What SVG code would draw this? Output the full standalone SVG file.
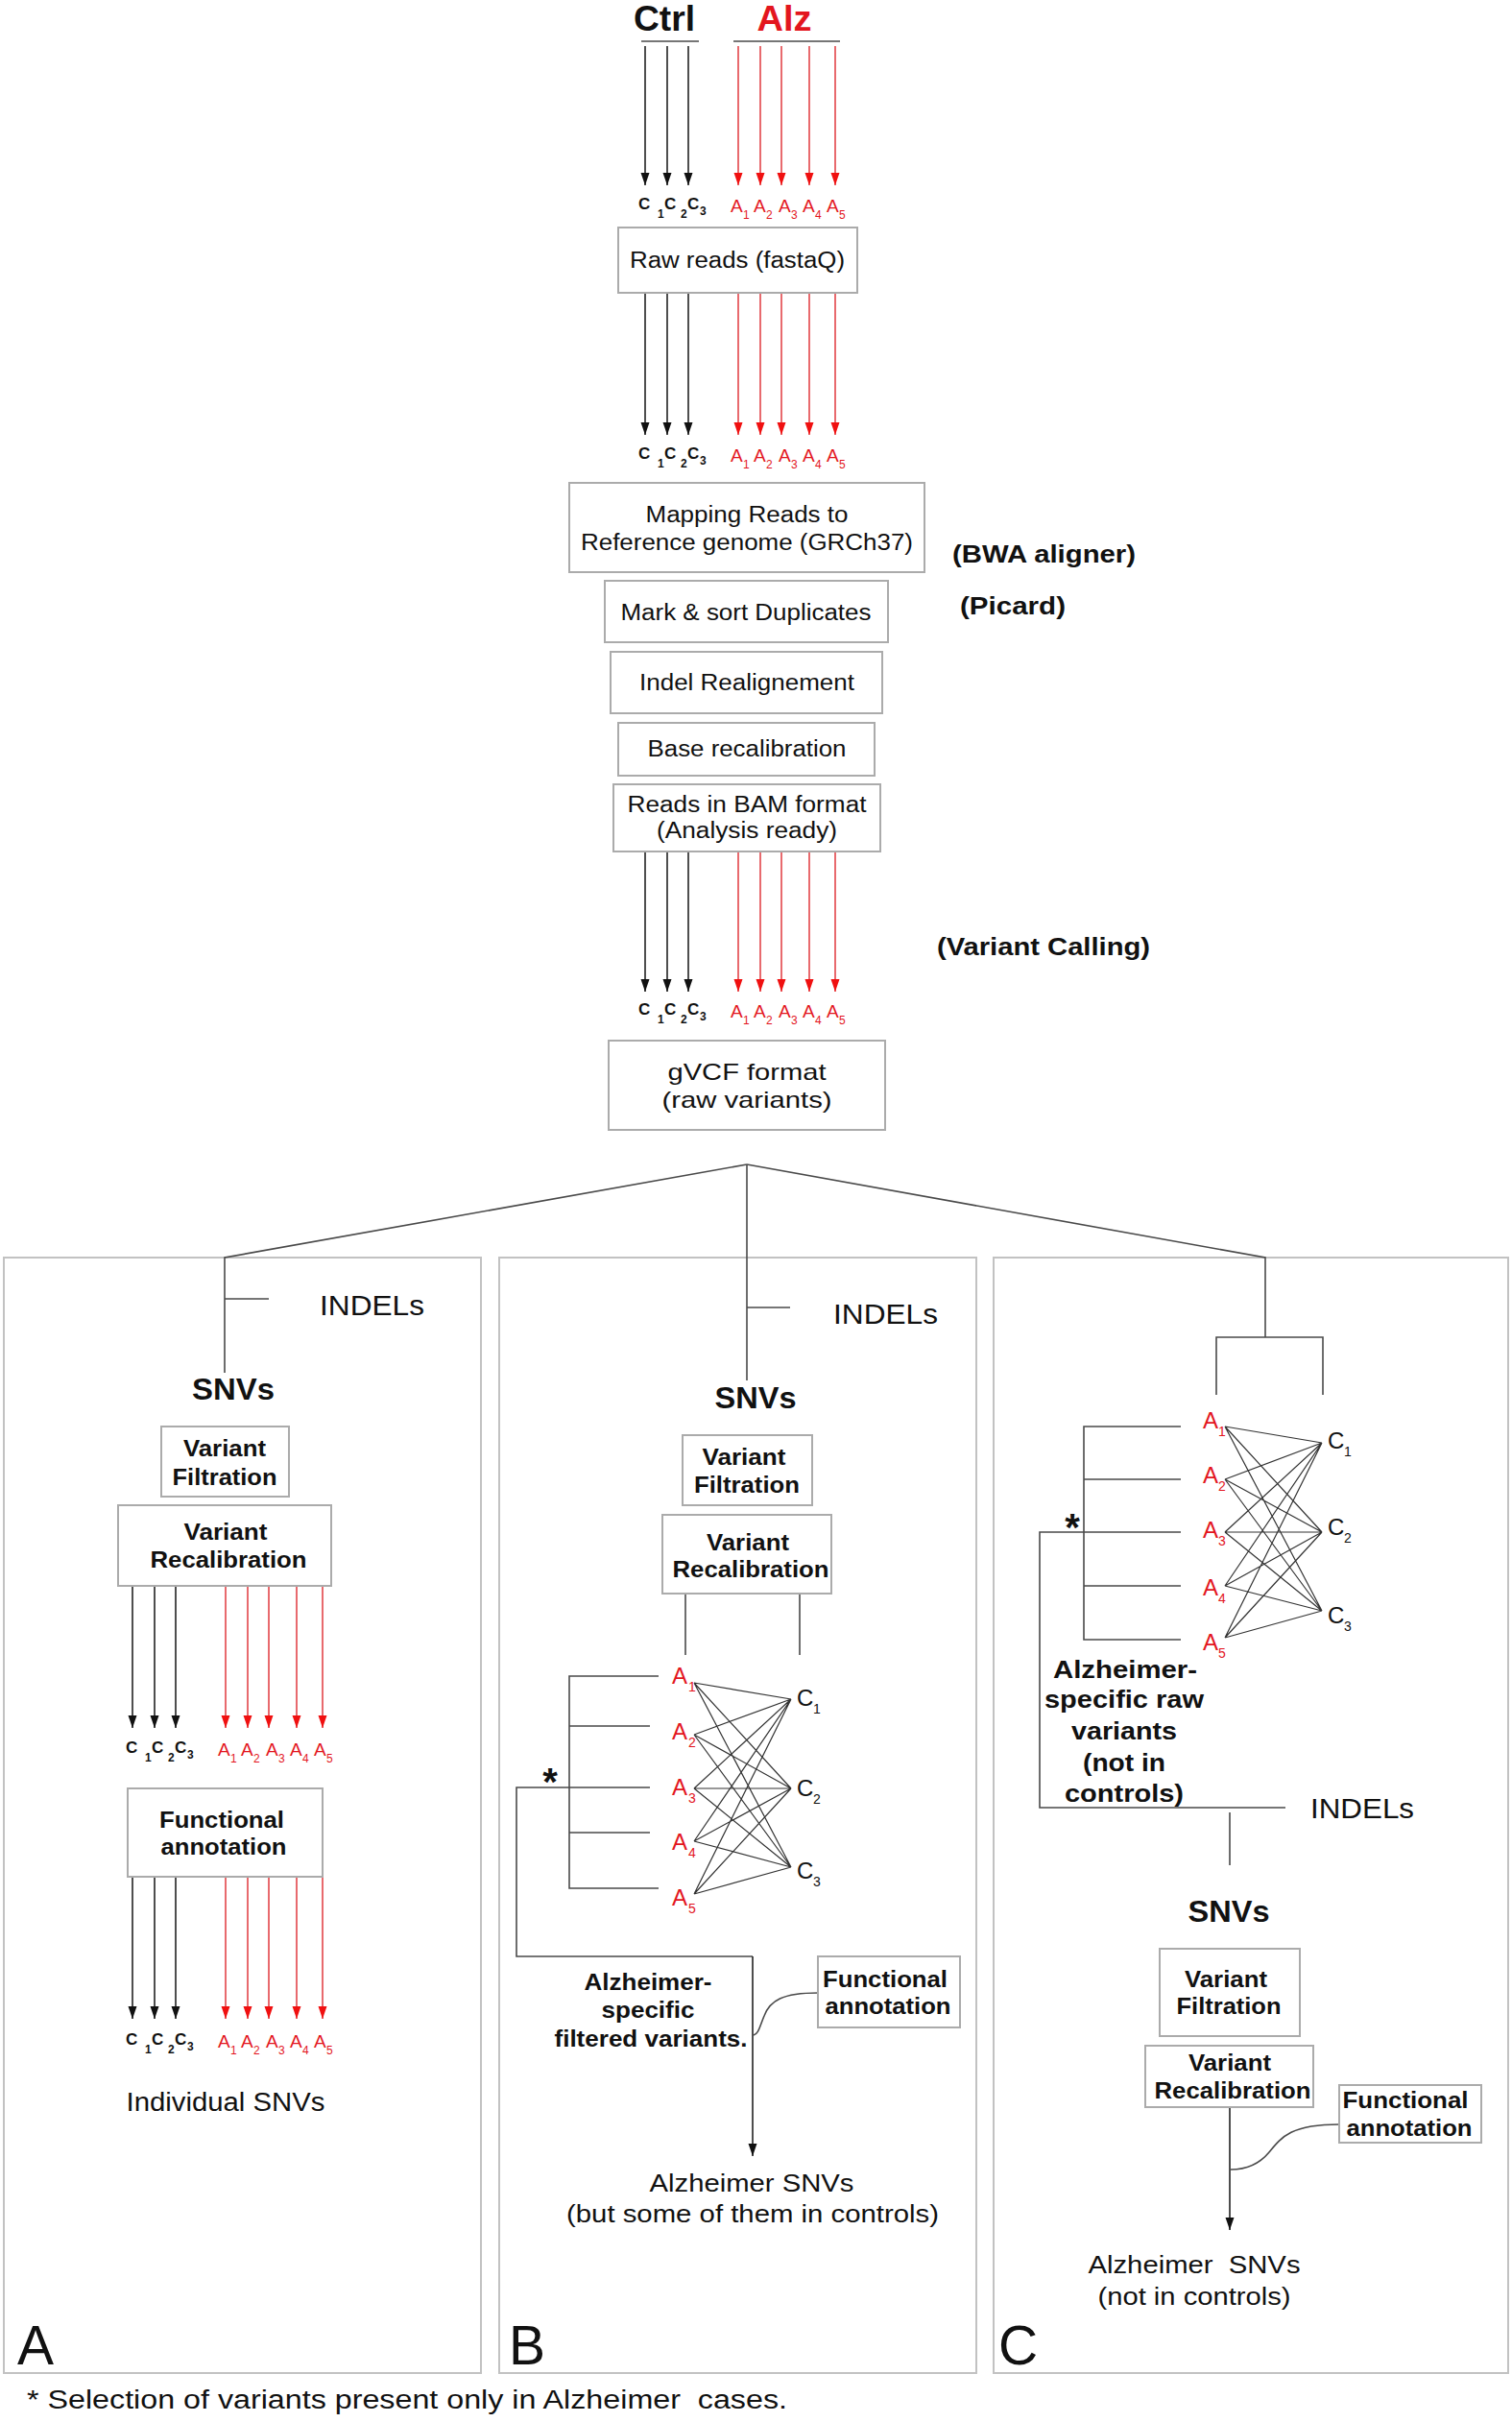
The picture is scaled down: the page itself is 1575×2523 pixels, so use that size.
<svg xmlns="http://www.w3.org/2000/svg" xmlns:xlink="http://www.w3.org/1999/xlink" width="1575" height="2523" viewBox="0 0 1575 2523">
<style>
text{font-family:"Liberation Sans",Arial,Helvetica,sans-serif;fill:#111;white-space:pre}
.b{font-weight:bold}
.m{text-anchor:middle}
.red{fill:#e3161e}
.box{fill:#fff;stroke:#ababab;stroke-width:2}
.pan{fill:none;stroke:#c2c2c2;stroke-width:2}
.ln{fill:none;stroke:#4a4a4a;stroke-width:1.6}
.x{fill:none;stroke:#333;stroke-width:1.2}
.ak{stroke:#222;stroke-width:1.6;marker-end:url(#hk)}
.ar{stroke:#e0393e;stroke-width:1.5;marker-end:url(#hr)}
.sc{font-weight:bold;font-size:17px}
.ss{font-weight:bold;font-size:12px}
.sa{font-size:19px;fill:#e3161e}
.sr{font-size:12px;fill:#e3161e}
.n22{font-size:23px}
.h26{font-size:26px;font-weight:bold}
.v24{font-size:24px;font-weight:bold}
.ind{font-size:29px}
.snv{font-size:32px;font-weight:bold}
.la{font-size:24px;fill:#e3161e}
.lc{font-size:24px}
.sub{font-size:14px}
.subr{font-size:14px;fill:#e3161e}
</style>
<defs>
<marker id="hk" markerUnits="userSpaceOnUse" markerWidth="14" markerHeight="10" refX="13" refY="4.5" orient="auto" overflow="visible"><path d="M0,0 L13,4.5 L0,9 z" fill="#111"/></marker>
<marker id="hr" markerUnits="userSpaceOnUse" markerWidth="14" markerHeight="10" refX="13" refY="4.5" orient="auto" overflow="visible"><path d="M0,0 L13,4.5 L0,9 z" fill="#f01010"/></marker>
<g id="lbl">
<text class="sc" x="665" y="218">C</text><text class="ss" x="685" y="227">1</text>
<text class="sc" x="692" y="218">C</text><text class="ss" x="709" y="227">2</text>
<text class="sc" x="716" y="218">C</text><text class="ss" x="729" y="224">3</text>
<text class="sa" x="761" y="221">A</text><text class="sr" x="774" y="228">1</text>
<text class="sa" x="785" y="221">A</text><text class="sr" x="798" y="228">2</text>
<text class="sa" x="811" y="221">A</text><text class="sr" x="824" y="228">3</text>
<text class="sa" x="836" y="221">A</text><text class="sr" x="849" y="228">4</text>
<text class="sa" x="861" y="221">A</text><text class="sr" x="874" y="228">5</text>
</g>
</defs>
<rect width="1575" height="2523" fill="#fff"/>

<g id="panels">
<rect class="pan" x="4" y="1310" width="497" height="1162"/>
<rect class="pan" x="520" y="1310" width="497" height="1162"/>
<rect class="pan" x="1035" y="1310" width="536" height="1162"/>
<text x="18" y="2463" font-size="57">A</text>
<text x="530" y="2463" font-size="57">B</text>
<text x="1040" y="2463" font-size="57">C</text>
</g>

<g id="connectors">
<path class="ln" d="M668,43 H728 M764,43 H875" stroke="#666"/>
<g>
<line class="ak" x1="672" y1="48" x2="672" y2="193"/><line class="ak" x1="695" y1="48" x2="695" y2="193"/><line class="ak" x1="717" y1="48" x2="717" y2="193"/>
<line class="ar" x1="769" y1="48" x2="769" y2="193"/><line class="ar" x1="792" y1="48" x2="792" y2="193"/><line class="ar" x1="814" y1="48" x2="814" y2="193"/><line class="ar" x1="843" y1="48" x2="843" y2="193"/><line class="ar" x1="870" y1="48" x2="870" y2="193"/>
</g>
<g>
<line class="ak" x1="672" y1="305" x2="672" y2="453"/><line class="ak" x1="695" y1="305" x2="695" y2="453"/><line class="ak" x1="717" y1="305" x2="717" y2="453"/>
<line class="ar" x1="769" y1="305" x2="769" y2="453"/><line class="ar" x1="792" y1="305" x2="792" y2="453"/><line class="ar" x1="814" y1="305" x2="814" y2="453"/><line class="ar" x1="843" y1="305" x2="843" y2="453"/><line class="ar" x1="870" y1="305" x2="870" y2="453"/>
</g>
<g>
<line class="ak" x1="672" y1="887" x2="672" y2="1033"/><line class="ak" x1="695" y1="887" x2="695" y2="1033"/><line class="ak" x1="717" y1="887" x2="717" y2="1033"/>
<line class="ar" x1="769" y1="887" x2="769" y2="1033"/><line class="ar" x1="792" y1="887" x2="792" y2="1033"/><line class="ar" x1="814" y1="887" x2="814" y2="1033"/><line class="ar" x1="843" y1="887" x2="843" y2="1033"/><line class="ar" x1="870" y1="887" x2="870" y2="1033"/>
</g>
<g>
<line class="ak" x1="138" y1="1652" x2="138" y2="1800"/><line class="ak" x1="161" y1="1652" x2="161" y2="1800"/><line class="ak" x1="183" y1="1652" x2="183" y2="1800"/>
<line class="ar" x1="235" y1="1652" x2="235" y2="1800"/><line class="ar" x1="258" y1="1652" x2="258" y2="1800"/><line class="ar" x1="280" y1="1652" x2="280" y2="1800"/><line class="ar" x1="309" y1="1652" x2="309" y2="1800"/><line class="ar" x1="336" y1="1652" x2="336" y2="1800"/>
<line class="ak" x1="138" y1="1955" x2="138" y2="2103"/><line class="ak" x1="161" y1="1955" x2="161" y2="2103"/><line class="ak" x1="183" y1="1955" x2="183" y2="2103"/>
<line class="ar" x1="235" y1="1955" x2="235" y2="2103"/><line class="ar" x1="258" y1="1955" x2="258" y2="2103"/><line class="ar" x1="280" y1="1955" x2="280" y2="2103"/><line class="ar" x1="309" y1="1955" x2="309" y2="2103"/><line class="ar" x1="336" y1="1955" x2="336" y2="2103"/>
</g>
<path class="ln" d="M778,1213 L234,1310 V1430 M234,1353 H280"/>
<path class="ln" d="M778,1213 V1438 M778,1362 H823"/>
<path class="ln" d="M778,1213 L1318,1310 V1393 M1267,1453 V1393 H1378 V1453"/>
<path class="ln" d="M714,1660 V1724 M833,1660 V1724"/>
<path class="ln" d="M686,1746 H593 V1967 H686 M593,1798 H677 M593,1909 H677 M677,1862 H538 V2038 H784"/>
<line class="ak" x1="784" y1="2038" x2="784" y2="2246"/>
<path class="x" d="M723,1753 L824,1770 M723,1753 L824,1863 M723,1753 L824,1945
M723,1807 L824,1770 M723,1807 L824,1863 M723,1807 L824,1945
M723,1863 L824,1770 M723,1863 L824,1863 M723,1863 L824,1945
M723,1918 L824,1770 M723,1918 L824,1863 M723,1918 L824,1945
M723,1973 L824,1770 M723,1973 L824,1863 M723,1973 L824,1945"/>
<path class="ln" d="M852,2076 C815,2076 802,2084 796,2100 C791,2112 790,2119 785,2120"/>
<path class="ln" d="M1230,1486 H1129 V1708 H1230 M1129,1541 H1230 M1129,1652 H1230 M1230,1596 H1083 V1883 H1339 M1281,1888 V1943"/>
<path class="x" d="M1276,1486 L1377,1503 M1276,1486 L1377,1596 M1276,1486 L1377,1678
M1276,1541 L1377,1503 M1276,1541 L1377,1596 M1276,1541 L1377,1678
M1276,1596 L1377,1503 M1276,1596 L1377,1596 M1276,1596 L1377,1678
M1276,1652 L1377,1503 M1276,1652 L1377,1596 M1276,1652 L1377,1678
M1276,1706 L1377,1503 M1276,1706 L1377,1596 M1276,1706 L1377,1678"/>
<line class="ak" x1="1281" y1="2195" x2="1281" y2="2323"/>
<path class="ln" d="M1395,2213 C1345,2213 1335,2226 1322,2242 C1312,2254 1300,2260 1282,2260"/>
</g>

<g id="sample-labels">
<use xlink:href="#lbl"/>
<use xlink:href="#lbl" transform="translate(0,260)"/>
<use xlink:href="#lbl" transform="translate(0,839)"/>
<use xlink:href="#lbl" transform="translate(-534,1608)"/>
<use xlink:href="#lbl" transform="translate(-534,1912)"/>
</g>

<g id="header">
<text class="b m" x="692" y="32" font-size="36" textLength="64" lengthAdjust="spacingAndGlyphs">Ctrl</text>
<text class="b m red" x="817" y="32" font-size="36" textLength="57" lengthAdjust="spacingAndGlyphs">Alz</text>
</g>

<g id="raw-reads"><rect class="box" x="644" y="237" width="249" height="68"/><text class="n22 m" x="768" y="279" textLength="224" lengthAdjust="spacingAndGlyphs">Raw reads (fastaQ)</text></g>
<g id="mapping"><rect class="box" x="593" y="503" width="370" height="93"/><text class="n22 m" x="778" y="544" textLength="211" lengthAdjust="spacingAndGlyphs">Mapping Reads to</text><text class="n22 m" x="778" y="573" textLength="346" lengthAdjust="spacingAndGlyphs">Reference genome (GRCh37)</text></g>
<g id="bwa"><text class="h26" x="992" y="586" textLength="191" lengthAdjust="spacingAndGlyphs">(BWA aligner)</text></g>
<g id="mark-dup"><rect class="box" x="630" y="605" width="295" height="64"/><text class="n22 m" x="777" y="646" textLength="261" lengthAdjust="spacingAndGlyphs">Mark &amp; sort Duplicates</text></g>
<g id="picard"><text class="h26" x="1000" y="640" textLength="110" lengthAdjust="spacingAndGlyphs">(Picard)</text></g>
<g id="indel-realign"><rect class="box" x="636" y="679" width="283" height="64"/><text class="n22 m" x="778" y="719" textLength="224" lengthAdjust="spacingAndGlyphs">Indel Realignement</text></g>
<g id="base-recal"><rect class="box" x="644" y="753" width="267" height="55"/><text class="n22 m" x="778" y="788" textLength="207" lengthAdjust="spacingAndGlyphs">Base recalibration</text></g>
<g id="bam"><rect class="box" x="639" y="817" width="278" height="70"/><text class="n22 m" x="778" y="846" textLength="249" lengthAdjust="spacingAndGlyphs">Reads in BAM format</text><text class="n22 m" x="778" y="873" textLength="188" lengthAdjust="spacingAndGlyphs">(Analysis ready)</text></g>
<g id="variant-calling"><text class="h26" x="976" y="995" textLength="222" lengthAdjust="spacingAndGlyphs">(Variant Calling)</text></g>
<g id="gvcf"><rect class="box" x="634" y="1084" width="288" height="93"/><text class="m" font-size="24" x="778" y="1125" textLength="165" lengthAdjust="spacingAndGlyphs">gVCF format</text><text class="m" font-size="24" x="778" y="1154" textLength="177" lengthAdjust="spacingAndGlyphs">(raw variants)</text></g>

<g id="a-indels"><text class="ind" x="333" y="1370" textLength="109" lengthAdjust="spacingAndGlyphs">INDELs</text></g>
<g id="a-snvs"><text class="snv m" x="243" y="1458" textLength="86" lengthAdjust="spacingAndGlyphs">SNVs</text></g>
<g id="a-filt"><rect class="box" x="168" y="1486" width="133" height="73"/><text class="v24 m" x="234" y="1517" textLength="86" lengthAdjust="spacingAndGlyphs">Variant</text><text class="v24 m" x="234" y="1547" textLength="109" lengthAdjust="spacingAndGlyphs">Filtration</text></g>
<g id="a-recal"><rect class="box" x="123" y="1568" width="222" height="84"/><text class="v24 m" x="235" y="1604" textLength="87" lengthAdjust="spacingAndGlyphs">Variant</text><text class="v24 m" x="238" y="1633" textLength="163" lengthAdjust="spacingAndGlyphs">Recalibration</text></g>
<g id="a-func"><rect class="box" x="133" y="1863" width="203" height="92"/><text class="v24 m" x="231" y="1904" textLength="130" lengthAdjust="spacingAndGlyphs">Functional</text><text class="v24 m" x="233" y="1932" textLength="131" lengthAdjust="spacingAndGlyphs">annotation</text></g>
<g id="a-result"><text class="m" font-size="27" x="235" y="2199" textLength="207" lengthAdjust="spacingAndGlyphs">Individual SNVs</text></g>

<g id="b-indels"><text class="ind" x="868" y="1379" textLength="109" lengthAdjust="spacingAndGlyphs">INDELs</text></g>
<g id="b-snvs"><text class="snv m" x="787" y="1467" textLength="85" lengthAdjust="spacingAndGlyphs">SNVs</text></g>
<g id="b-filt"><rect class="box" x="711" y="1495" width="135" height="73"/><text class="v24 m" x="775" y="1526" textLength="87" lengthAdjust="spacingAndGlyphs">Variant</text><text class="v24 m" x="778" y="1555" textLength="110" lengthAdjust="spacingAndGlyphs">Filtration</text></g>
<g id="b-recal"><rect class="box" x="690" y="1578" width="176" height="82"/><text class="v24 m" x="779" y="1615" textLength="86" lengthAdjust="spacingAndGlyphs">Variant</text><text class="v24 m" x="782" y="1643" textLength="163" lengthAdjust="spacingAndGlyphs">Recalibration</text></g>
<g id="b-samples">
<text class="la" x="700" y="1754">A</text><text class="subr" x="717" y="1762">1</text>
<text class="la" x="700" y="1812">A</text><text class="subr" x="717" y="1820">2</text>
<text class="la" x="700" y="1870">A</text><text class="subr" x="717" y="1878">3</text>
<text class="la" x="700" y="1927">A</text><text class="subr" x="717" y="1935">4</text>
<text class="la" x="700" y="1985">A</text><text class="subr" x="717" y="1993">5</text>
<text class="lc" x="830" y="1777">C</text><text class="sub" x="847" y="1785">1</text>
<text class="lc" x="830" y="1871">C</text><text class="sub" x="847" y="1879">2</text>
<text class="lc" x="830" y="1957">C</text><text class="sub" x="847" y="1965">3</text>
<text class="b m" font-size="40" x="573" y="1870">*</text>
</g>
<g id="b-specific"><text class="v24 m" x="675" y="2073" textLength="133" lengthAdjust="spacingAndGlyphs">Alzheimer-</text><text class="v24 m" x="675" y="2102" textLength="97" lengthAdjust="spacingAndGlyphs">specific</text><text class="v24 m" x="678" y="2132" textLength="201" lengthAdjust="spacingAndGlyphs">filtered variants.</text></g>
<g id="b-func"><rect class="box" x="852" y="2038" width="148" height="74"/><text class="v24 m" x="922" y="2070" textLength="130" lengthAdjust="spacingAndGlyphs">Functional</text><text class="v24 m" x="925" y="2098" textLength="131" lengthAdjust="spacingAndGlyphs">annotation</text></g>
<g id="b-result"><text class="m" font-size="26" x="783" y="2283" textLength="213" lengthAdjust="spacingAndGlyphs">Alzheimer SNVs</text><text class="m" font-size="26" x="784" y="2315" textLength="388" lengthAdjust="spacingAndGlyphs">(but some of them in controls)</text></g>

<g id="c-samples">
<text class="la" x="1253" y="1488">A</text><text class="subr" x="1269" y="1496">1</text>
<text class="la" x="1253" y="1545">A</text><text class="subr" x="1269" y="1553">2</text>
<text class="la" x="1253" y="1602">A</text><text class="subr" x="1269" y="1610">3</text>
<text class="la" x="1253" y="1662">A</text><text class="subr" x="1269" y="1670">4</text>
<text class="la" x="1253" y="1719">A</text><text class="subr" x="1269" y="1727">5</text>
<text class="lc" x="1383" y="1509">C</text><text class="sub" x="1400" y="1517">1</text>
<text class="lc" x="1383" y="1599">C</text><text class="sub" x="1400" y="1607">2</text>
<text class="lc" x="1383" y="1691">C</text><text class="sub" x="1400" y="1699">3</text>
<text class="b m" font-size="40" x="1117" y="1605">*</text>
</g>
<g id="c-specific"><text class="b m" font-size="26" x="1172" y="1748" textLength="150" lengthAdjust="spacingAndGlyphs">Alzheimer-</text><text class="b m" font-size="26" x="1171" y="1779" textLength="166" lengthAdjust="spacingAndGlyphs">specific raw</text><text class="b m" font-size="26" x="1171" y="1812" textLength="110" lengthAdjust="spacingAndGlyphs">variants</text><text class="b m" font-size="26" x="1171" y="1845" textLength="86" lengthAdjust="spacingAndGlyphs">(not in</text><text class="b m" font-size="26" x="1171" y="1877" textLength="124" lengthAdjust="spacingAndGlyphs">controls)</text></g>
<g id="c-indels"><text class="ind" x="1365" y="1894" textLength="108" lengthAdjust="spacingAndGlyphs">INDELs</text></g>
<g id="c-snvs"><text class="snv m" x="1280" y="2002" textLength="85" lengthAdjust="spacingAndGlyphs">SNVs</text></g>
<g id="c-filt"><rect class="box" x="1208" y="2030" width="146" height="91"/><text class="v24 m" x="1277" y="2070" textLength="86" lengthAdjust="spacingAndGlyphs">Variant</text><text class="v24 m" x="1280" y="2098" textLength="109" lengthAdjust="spacingAndGlyphs">Filtration</text></g>
<g id="c-recal"><rect class="box" x="1193" y="2131" width="175" height="64"/><text class="v24 m" x="1281" y="2157" textLength="86" lengthAdjust="spacingAndGlyphs">Variant</text><text class="v24 m" x="1284" y="2186" textLength="163" lengthAdjust="spacingAndGlyphs">Recalibration</text></g>
<g id="c-func"><rect class="box" x="1395" y="2172" width="148" height="60"/><text class="v24 m" x="1464" y="2196" textLength="131" lengthAdjust="spacingAndGlyphs">Functional</text><text class="v24 m" x="1468" y="2225" textLength="131" lengthAdjust="spacingAndGlyphs">annotation</text></g>
<g id="c-result"><text class="m" font-size="26" x="1244" y="2368" textLength="221" lengthAdjust="spacingAndGlyphs">Alzheimer  SNVs</text><text class="m" font-size="26" x="1244" y="2401" textLength="201" lengthAdjust="spacingAndGlyphs">(not in controls)</text></g>

<g id="footnote"><text font-size="27" x="28" y="2509" textLength="792" lengthAdjust="spacingAndGlyphs">* Selection of variants present only in Alzheimer  cases.</text></g>
</svg>
